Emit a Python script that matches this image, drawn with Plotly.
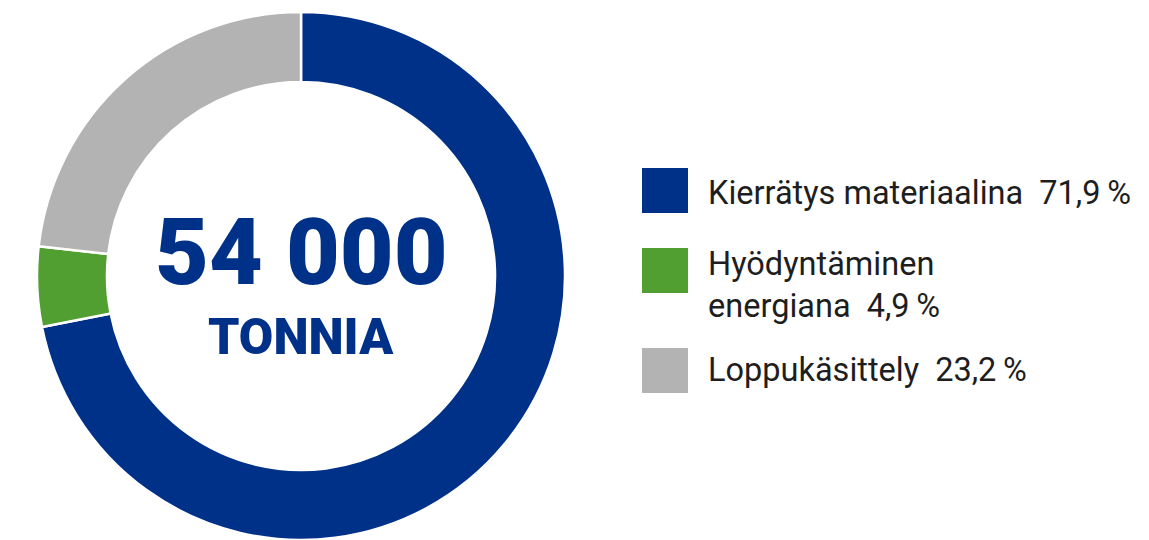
import plotly.graph_objects as go

# Data
labels = ["Kierrätys materiaalina", "Hyödyntäminen energiana", "Loppukäsittely"]
legend_lines = ["Kierrätys materiaalina", "Hyödyntäminen<br>energiana", "Loppukäsittely"]
values = [71.9, 4.9, 23.2]
colors = ["#003189", "#519e31", "#b3b3b3"]
total_text = "54 000"
unit_text = "TONNIA"

W, H = 1149, 540

fig = go.Figure()
fig.add_trace(go.Pie(
    labels=labels,
    values=values,
    marker=dict(colors=colors, line=dict(color="white", width=2.5)),
    hole=0.735,
    sort=False,
    direction="clockwise",
    rotation=0,
    textinfo="none",
    hoverinfo="label+percent",
    showlegend=False,
    domain=dict(x=[37 / W, 565 / W], y=[0, 528 / H]),
))

annotations = [
    dict(text=total_text, x=301 / W, y=(H - 252) / H, xref="paper", yref="paper",
         xanchor="center", yanchor="middle", showarrow=False,
         font=dict(family="Roboto", size=93, color="#003189", weight=900)),
    dict(text=unit_text, x=301 / W, y=(H - 337) / H, xref="paper", yref="paper",
         xanchor="center", yanchor="middle", showarrow=False,
         font=dict(family="Roboto", size=50, color="#003189", weight=900)),
]

shapes = []
sq_tops = [168, 248, 348]
text_y = [193, 285, 370]
for i, (lab, val, col) in enumerate(zip(legend_lines, values, colors)):
    top = sq_tops[i]
    shapes.append(dict(type="rect", xref="paper", yref="paper",
                       x0=642 / W, x1=688 / W, y0=(H - top - 45) / H, y1=(H - top) / H,
                       fillcolor=col, line=dict(width=0)))
    pct = f"{val:.1f}".replace(".", ",") + "\u2009%"
    annotations.append(dict(
        text=f"{lab}\u00a0\u00a0{pct}", x=706 / W, y=(H - text_y[i]) / H,
        xref="paper", yref="paper", xanchor="left", yanchor="middle",
        align="left", showarrow=False,
        font=dict(family="Roboto", size=32.5, color="#1e1e1e"),
    ))

fig.update_layout(
    width=W, height=H,
    margin=dict(l=0, r=0, t=0, b=0),
    paper_bgcolor="white", plot_bgcolor="white",
    annotations=annotations, shapes=shapes,
)

fig.write_html("out.html", config={"displayModeBar": False},
               post_script="document.body.style.margin='0';")
